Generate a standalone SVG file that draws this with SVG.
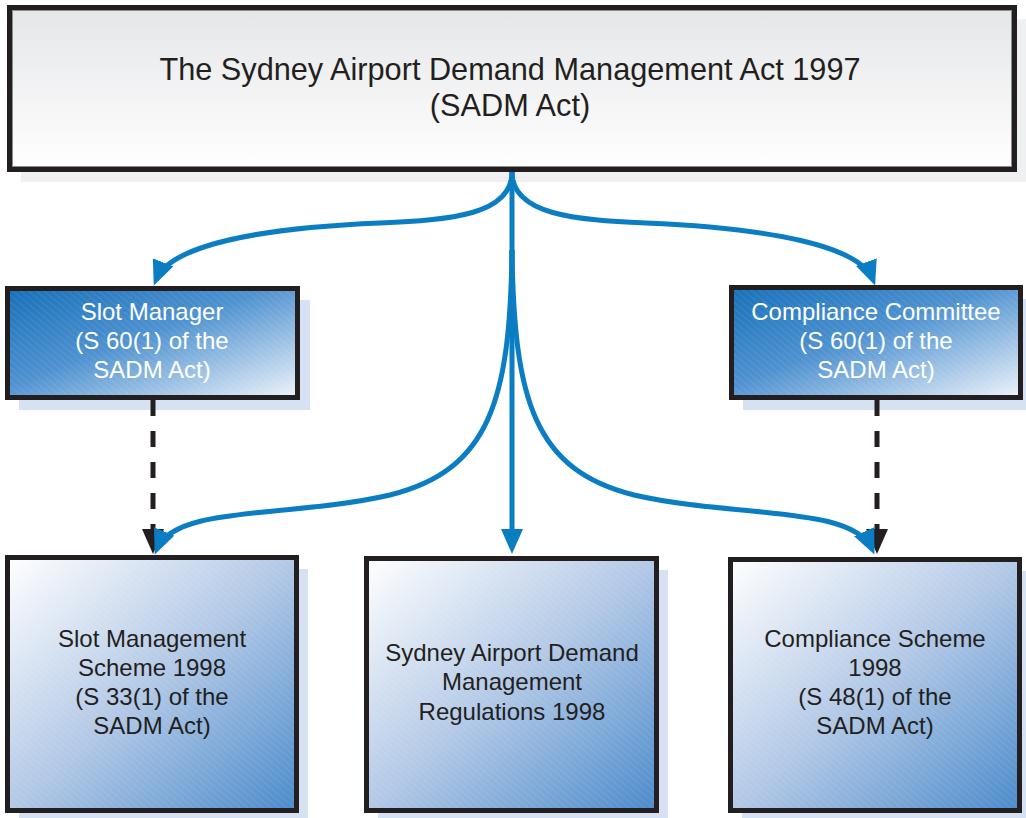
<svg xmlns="http://www.w3.org/2000/svg" width="1026" height="818" viewBox="0 0 1026 818">
  <style>
    .frame { stroke: #231f20; stroke-width: 5; }
    .shadow-grey { fill: #eef0f2; }
    .shadow-blue { fill: #d6e2f3; }
    .label { font-family: "Liberation Sans", Arial, sans-serif; font-size: 24px; text-anchor: middle; fill: #231f20; }
    .label-white { fill: #ffffff; }
    .title { font-size: 30.7px; }
    .flow { fill: none; stroke: #0b7dc3; stroke-width: 5; }
    .dash { fill: none; stroke: #231f20; stroke-width: 5; stroke-dasharray: 16 15; }
  </style>
  <defs>
    <linearGradient id="gTop" x1="0" y1="0" x2="0" y2="1">
      <stop offset="0" stop-color="#e5e6e8"/>
      <stop offset="1" stop-color="#ffffff"/>
    </linearGradient>
    <linearGradient id="gDark" x1="0" y1="0" x2="1" y2="1">
      <stop offset="0" stop-color="#1770b9"/>
      <stop offset="0.45" stop-color="#4f92d0"/>
      <stop offset="1" stop-color="#eef3fa"/>
    </linearGradient>
    <linearGradient id="gLight" x1="0" y1="0" x2="1" y2="1">
      <stop offset="0" stop-color="#ffffff"/>
      <stop offset="0.5" stop-color="#b2c8e6"/>
      <stop offset="1" stop-color="#4b8bcb"/>
    </linearGradient>
    <pattern id="hatch" width="5" height="5" patternUnits="userSpaceOnUse" patternTransform="rotate(-50)">
      <line x1="0" y1="0" x2="0" y2="5" stroke="#ffffff" stroke-opacity="0.18" stroke-width="1"/>
    </pattern>
    <marker id="headBlue" markerUnits="userSpaceOnUse" markerWidth="26" markerHeight="24" refX="19" refY="11" orient="auto">
      <path d="M0,0 L25,11 L0,22 z" fill="#0b7dc3"/>
    </marker>
    <marker id="headBlack" markerUnits="userSpaceOnUse" markerWidth="26" markerHeight="24" refX="19" refY="11" orient="auto">
      <path d="M0,0 L25,11 L0,22 z" fill="#231f20"/>
    </marker>
  </defs>

  <!-- Act -->
  <g id="act">
    <rect class="shadow-grey" x="21" y="19" width="1005" height="163"/>
    <rect class="frame" x="9.5" y="7.5" width="1005" height="162" fill="url(#gTop)"/>
    <rect x="12.5" y="10.5" width="999" height="156" fill="none" stroke="#8a8c8e" stroke-width="1"/>
    <text class="label title" x="510" y="80">The Sydney Airport Demand Management Act 1997</text>
    <text class="label title" x="510" y="116">(SADM Act)</text>
  </g>

  <!-- Slot Manager -->
  <g id="slot-manager">
    <rect class="shadow-blue" x="19" y="300" width="291" height="110"/>
    <rect class="frame" x="7.5" y="288.5" width="290" height="109" fill="url(#gDark)"/>
    <rect x="10" y="291" width="285" height="104" fill="url(#hatch)"/>
    <text class="label label-white" x="152" y="320">Slot Manager</text>
    <text class="label label-white" x="152" y="349">(S 60(1) of the</text>
    <text class="label label-white" x="152" y="378">SADM Act)</text>
  </g>

  <!-- Compliance Committee -->
  <g id="compliance-committee">
    <rect class="shadow-blue" x="743" y="299" width="283" height="111"/>
    <rect class="frame" x="731.5" y="287.5" width="289" height="110" fill="url(#gDark)"/>
    <rect x="734" y="290" width="284" height="105" fill="url(#hatch)"/>
    <text class="label label-white" x="876" y="320">Compliance Committee</text>
    <text class="label label-white" x="876" y="349">(S 60(1) of the</text>
    <text class="label label-white" x="876" y="378">SADM Act)</text>
  </g>

  <!-- Slot Management Scheme -->
  <g id="slot-management-scheme">
    <rect class="shadow-blue" x="19" y="569" width="289" height="249"/>
    <rect class="frame" x="7.5" y="557.5" width="289" height="253" fill="url(#gLight)"/>
    <rect x="10" y="560" width="284" height="248" fill="url(#hatch)"/>
    <text class="label" x="152" y="647">Slot Management</text>
    <text class="label" x="152" y="676">Scheme 1998</text>
    <text class="label" x="152" y="705">(S 33(1) of the</text>
    <text class="label" x="152" y="734">SADM Act)</text>
  </g>

  <!-- Regulations -->
  <g id="regulations">
    <rect class="shadow-blue" x="378" y="570" width="290" height="248"/>
    <rect class="frame" x="366.5" y="558.5" width="290" height="252" fill="url(#gLight)"/>
    <rect x="369" y="561" width="285" height="247" fill="url(#hatch)"/>
    <text class="label" x="512" y="661">Sydney Airport Demand</text>
    <text class="label" x="512" y="690">Management</text>
    <text class="label" x="512" y="720">Regulations 1998</text>
  </g>

  <!-- Compliance Scheme -->
  <g id="compliance-scheme">
    <rect class="shadow-blue" x="742" y="571" width="284" height="247"/>
    <rect class="frame" x="730.5" y="559.5" width="289" height="251" fill="url(#gLight)"/>
    <rect x="733" y="562" width="284" height="246" fill="url(#hatch)"/>
    <text class="label" x="875" y="647">Compliance Scheme</text>
    <text class="label" x="875" y="676">1998</text>
    <text class="label" x="875" y="705">(S 48(1) of the</text>
    <text class="label" x="875" y="734">SADM Act)</text>
  </g>

  <!-- Connectors -->
  <g id="connectors">
    <path class="dash" d="M153,400 L153,548" marker-end="url(#headBlack)"/>
    <path class="dash" d="M877,400 L877,548" marker-end="url(#headBlack)"/>
    <path class="flow" d="M512,172 L512,548" marker-end="url(#headBlue)"/>
    <path class="flow" d="M512,172 C512,215 450,220 380,223 C260,228 170,245 156,280" marker-end="url(#headBlue)"/>
    <path class="flow" d="M512,172 C512,215 576,220 646,223 C766,228 860,245 873,280" marker-end="url(#headBlue)"/>
    <path class="flow" d="M512,250 C510,400 490,470 390,495 C290,518 175,505 157,549" marker-end="url(#headBlue)"/>
    <path class="flow" d="M512,250 C514,400 534,470 634,495 C734,518 852,505 872,549" marker-end="url(#headBlue)"/>
  </g>
</svg>
